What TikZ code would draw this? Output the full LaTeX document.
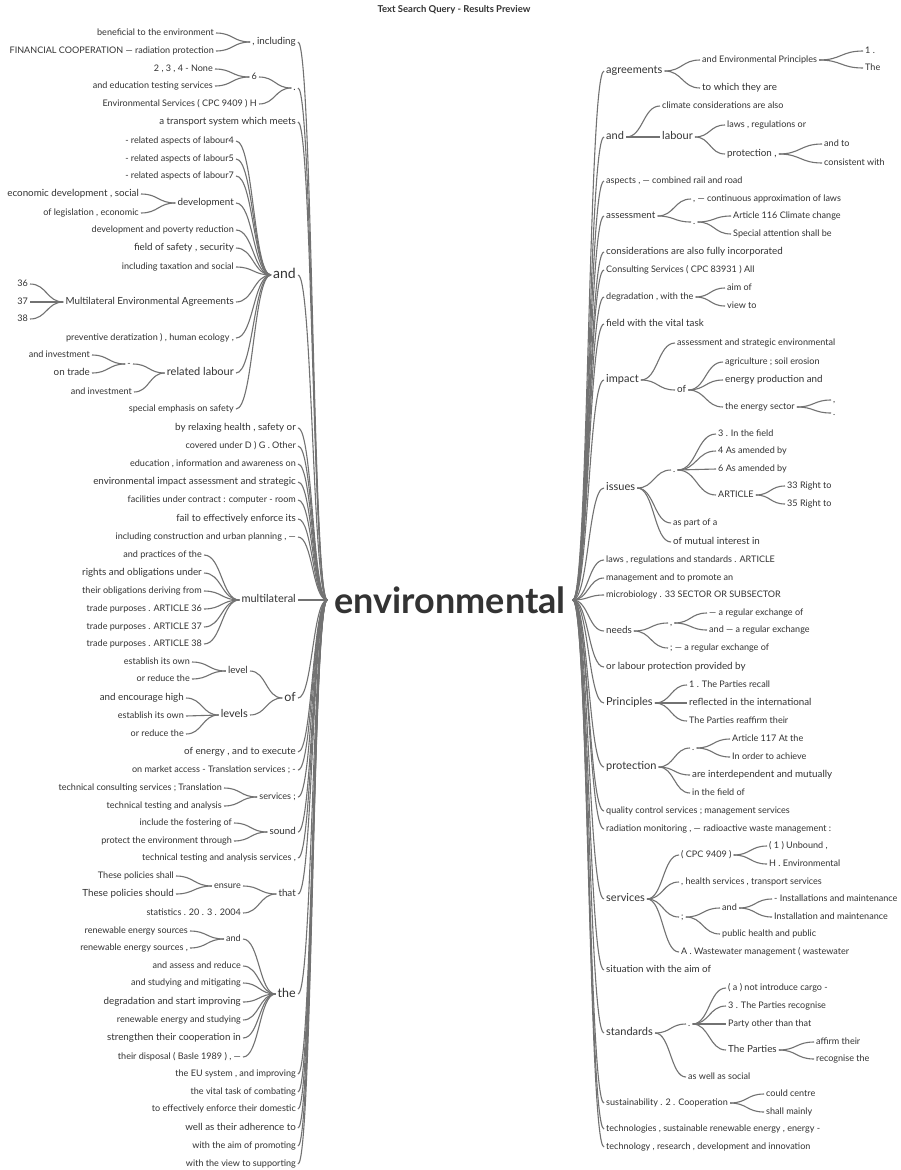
\documentclass[tikz,border=0pt]{standalone}
\usepackage{fontspec}
\setmainfont{Lato}
\usepackage{tikz}
\usetikzlibrary{calc}
\definecolor{wordgray}{HTML}{333333}
\definecolor{linkgray}{HTML}{727272}

% curved branch from the east side of one word to the west side of the next
\newcommand{\branch}[2]{\draw[link] let \p1=(#1.east), \p2=(#2.west) in (\p1) .. controls ({0.5*\x1+0.5*\x2},\y1) and ({0.5*\x1+0.5*\x2},\y2) .. (\p2);}

\tikzset{
  word/.style={text=wordgray, inner xsep=2pt, inner ysep=0pt},
  lword/.style={word, anchor=east},
  rword/.style={word, anchor=west},
  fs/.style={font=\fontsize{9.05}{11}\selectfont, text height=6pt, text depth=2pt},
  fm/.style={font=\fontsize{9.8}{12}\selectfont, text height=7pt, text depth=2pt},
  fl/.style={font=\fontsize{11}{13}\selectfont, text height=8pt, text depth=2.5pt},
  fxl/.style={font=\fontsize{12.5}{15}\selectfont, text height=9pt, text depth=3pt},
  link/.style={draw=linkgray, line width=1.1pt}
}

\begin{document}
\begin{tikzpicture}[x=1pt, y=-1pt]
\path[fill=white, use as bounding box] (0,0) rectangle (900,1170);

\node[text=wordgray, font=\fontsize{9.5}{11}\selectfont\bfseries] (title) at (454,10) {Text Search Query - Results Preview};

% Root
\node[text=wordgray, font=\fontsize{36}{42}\selectfont\bfseries, inner xsep=7pt] (env) at (450,600) {environmental};

% Left side
\node[lword,fm] (incl) at (298,42) {, including};
\node[lword,fs] (incl1) at (216,33) {beneficial to the environment};
\node[lword,fs] (incl2) at (216,51) {FINANCIAL COOPERATION — radiation protection};
\branch{incl1}{incl} \branch{incl2}{incl}

\node[lword,fm] (dotA) at (298,88) {.};
\node[lword,fs] (six) at (259,77) {6};
\node[lword,fs] (six1) at (215,69) {2 , 3 , 4 - None};
\node[lword,fs] (six2) at (215,86) {and education testing services};
\node[lword,fs] (envserv) at (259,104) {Environmental Services ( CPC 9409 ) H};
\branch{six1}{six} \branch{six2}{six}
\branch{six}{dotA} \branch{envserv}{dotA}

\node[lword,fm] (transport) at (298,122) {a transport system which meets};

\node[lword,fxl,font=\fontsize{14}{16}\selectfont] (andL) at (298,275) {and};
\node[lword,fs] (lab4) at (236,141) {- related aspects of labour4};
\node[lword,fs] (lab5) at (236,159) {- related aspects of labour5};
\node[lword,fs] (lab7) at (236,176) {- related aspects of labour7};
\node[lword,fm] (devel) at (236,203) {development};
\node[lword,fm] (devel1) at (141,194) {economic development , social};
\node[lword,fs] (devel2) at (141,213) {of legislation , economic};
\node[lword,fs] (poverty) at (236,230) {development and poverty reduction};
\node[lword,fm] (safety) at (236,248) {field of safety , security};
\node[lword,fs] (taxation) at (236,267) {including taxation and social};
\node[lword,fm] (mea) at (236,302) {Multilateral Environmental Agreements};
\node[lword,fs] (mea1) at (30,284) {36};
\node[lword,fs] (mea2) at (30,302) {37};
\node[lword,fs] (mea3) at (30,319) {38};
\node[lword,fs] (derat) at (236,338) {preventive deratization ) , human ecology ,};
\node[lword,fl] (rellab) at (236,373) {related labour};
\node[lword,fs] (dash) at (133,364) {-};
\node[lword,fs] (dash1) at (92,355) {and investment};
\node[lword,fm] (dash2) at (92,373) {on trade};
\node[lword,fs] (rellab2) at (134,392) {and investment};
\node[lword,fs] (emph) at (236,409) {special emphasis on safety};
\branch{devel1}{devel} \branch{devel2}{devel}
\branch{mea1}{mea} \branch{mea2}{mea} \branch{mea3}{mea}
\branch{dash1}{dash} \branch{dash2}{dash}
\branch{dash}{rellab} \branch{rellab2}{rellab}
\foreach \nm in {lab4,lab5,lab7,devel,poverty,safety,taxation,mea,derat,rellab,emph}
  {\branch{\nm}{andL}}

\node[lword,fm] (relaxing) at (298,428) {by relaxing health , safety or};
\node[lword,fs] (covered) at (298,446) {covered under D ) G . Other};
\node[lword,fs] (educ) at (298,464) {education , information and awareness on};
\node[lword,fm] (eia) at (298,482) {environmental impact assessment and strategic};
\node[lword,fs] (facil) at (298,500) {facilities under contract : computer - room};
\node[lword,fm] (fail) at (298,519) {fail to effectively enforce its};
\node[lword,fs] (constr) at (298,537) {including construction and urban planning , —};

\node[lword,fl] (multi) at (298,600) {multilateral};
\node[lword,fs] (multi1) at (204,555) {and practices of the};
\node[lword,fm] (multi2) at (204,573) {rights and obligations under};
\node[lword,fs] (multi3) at (204,591) {their obligations deriving from};
\node[lword,fs] (multi4) at (204,609) {trade purposes . ARTICLE 36};
\node[lword,fs] (multi5) at (204,627) {trade purposes . ARTICLE 37};
\node[lword,fs] (multi6) at (204,644) {trade purposes . ARTICLE 38};
\foreach \nm in {multi1,multi2,multi3,multi4,multi5,multi6}
  {\branch{\nm}{multi}}

\node[lword,fxl] (ofL) at (298,698) {of};
\node[lword,fm] (level) at (250,671) {level};
\node[lword,fs] (level1) at (192,662) {establish its own};
\node[lword,fs] (level2) at (192,679) {or reduce the};
\node[lword,fl] (levels) at (250,715) {levels};
\node[lword,fm] (levels1) at (186,698) {and encourage high};
\node[lword,fs] (levels2) at (186,716) {establish its own};
\node[lword,fs] (levels3) at (186,734) {or reduce the};
\branch{level1}{level} \branch{level2}{level}
\branch{levels1}{levels} \branch{levels2}{levels} \branch{levels3}{levels}
\branch{level}{ofL} \branch{levels}{ofL}

\node[lword,fm] (energy) at (298,752) {of energy , and to execute};
\node[lword,fs] (market) at (298,770) {on market access - Translation services ; -};
\node[lword,fs] (servL) at (298,797) {services ;};
\node[lword,fs] (servL1) at (224,788) {technical consulting services ; Translation};
\node[lword,fs] (servL2) at (224,806) {technical testing and analysis};
\branch{servL1}{servL} \branch{servL2}{servL}

\node[lword,fm] (sound) at (298,832) {sound};
\node[lword,fs] (sound1) at (234,823) {include the fostering of};
\node[lword,fs] (sound2) at (234,841) {protect the environment through};
\branch{sound1}{sound} \branch{sound2}{sound}

\node[lword,fs] (techtest) at (298,858) {technical testing and analysis services ,};

\node[lword,fm] (that) at (298,894) {that};
\node[lword,fs] (ensure) at (243,886) {ensure};
\node[lword,fs] (ensure1) at (176,876) {These policies shall};
\node[lword,fm] (ensure2) at (176,894) {These policies should};
\node[lword,fs] (stats) at (243,913) {statistics . 20 . 3 . 2004};
\branch{ensure1}{ensure} \branch{ensure2}{ensure}
\branch{ensure}{that} \branch{stats}{that}

\node[lword,fxl] (theL) at (298,994) {the};
\node[lword,fs] (theand) at (243,939) {and};
\node[lword,fs] (theand1) at (190,931) {renewable energy sources};
\node[lword,fs] (theand2) at (190,948) {renewable energy sources ,};
\node[lword,fs] (the1) at (243,966) {and assess and reduce};
\node[lword,fs] (the2) at (243,983) {and studying and mitigating};
\node[lword,fm] (the3) at (243,1002) {degradation and start improving};
\node[lword,fs] (the4) at (243,1020) {renewable energy and studying};
\node[lword,fm] (the5) at (243,1038) {strengthen their cooperation in};
\node[lword,fs] (the6) at (243,1057) {their disposal ( Basle 1989 ) , —};
\branch{theand1}{theand} \branch{theand2}{theand}
\foreach \nm in {theand,the1,the2,the3,the4,the5,the6}
  {\branch{\nm}{theL}}

\node[lword,fs] (eu) at (298,1074) {the EU system , and improving};
\node[lword,fs] (vital) at (298,1092) {the vital task of combating};
\node[lword,fs] (enforce) at (298,1109) {to effectively enforce their domestic};
\node[lword,fm] (adher) at (298,1128) {well as their adherence to};
\node[lword,fs] (promot) at (298,1146) {with the aim of promoting};
\node[lword,fs] (support) at (298,1164) {with the view to supporting};

\foreach \nm in {incl,dotA,transport,andL,relaxing,covered,educ,eia,facil,fail,constr,multi,ofL,energy,market,servL,sound,techtest,that,theL,eu,vital,enforce,adher,promot,support}
  {\branch{\nm}{env}}

% Right side
\node[rword,fl] (agree) at (604,71) {agreements};
\node[rword,fs] (agree1) at (700,60) {and Environmental Principles};
\node[rword,fs] (agree11) at (863,51) {1 .};
\node[rword,fs] (agree12) at (863,68) {The};
\node[rword,fm] (agree2) at (700,88) {to which they are};
\branch{agree}{agree1} \branch{agree}{agree2}
\branch{agree1}{agree11} \branch{agree1}{agree12}

\node[rword,fl] (andR) at (604,137) {and};
\node[rword,fs] (andR1) at (660,106) {climate considerations are also};
\node[rword,fl] (labour) at (660,137) {labour};
\node[rword,fs] (labour1) at (725,125) {laws , regulations or};
\node[rword,fm] (labour2) at (725,154) {protection ,};
\node[rword,fs] (prot1) at (822,144) {and to};
\node[rword,fs] (prot2) at (822,163) {consistent with};
\branch{andR}{andR1} \branch{andR}{labour}
\branch{labour}{labour1} \branch{labour}{labour2}
\branch{labour2}{prot1} \branch{labour2}{prot2}

\node[rword,fs] (aspects) at (604,181) {aspects , — combined rail and road};
\node[rword,fm] (assess) at (604,216) {assessment};
\node[rword,fs] (assess1) at (691,199) {, — continuous approximation of laws};
\node[rword,fs] (assess2) at (691,222) {.};
\node[rword,fs] (art116) at (731,216) {Article 116 Climate change};
\node[rword,fs] (special) at (731,234) {Special attention shall be};
\branch{assess}{assess1} \branch{assess}{assess2}
\branch{assess2}{art116} \branch{assess2}{special}

\node[rword,fm] (consid) at (604,252) {considerations are also fully incorporated};
\node[rword,fs] (consult) at (604,270) {Consulting Services ( CPC 83931 ) All};
\node[rword,fs] (degr) at (604,297) {degradation , with the};
\node[rword,fs] (degr1) at (725,288) {aim of};
\node[rword,fs] (degr2) at (725,306) {view to};
\branch{degr}{degr1} \branch{degr}{degr2}
\node[rword,fm] (fieldtask) at (604,324) {field with the vital task};

\node[rword,fl] (impact) at (604,380) {impact};
\node[rword,fs] (impact1) at (675,343) {assessment and strategic environmental};
\node[rword,fm] (impof) at (675,390) {of};
\node[rword,fs] (impof1) at (723,362) {agriculture ; soil erosion};
\node[rword,fm] (impof2) at (723,380) {energy production and};
\node[rword,fs] (sector) at (723,407) {the energy sector};
\node[rword,fs] (sector1) at (831,400) {,};
\node[rword,fs] (sector2) at (831,413) {.};
\branch{impact}{impact1} \branch{impact}{impof}
\branch{impof}{impof1} \branch{impof}{impof2} \branch{impof}{sector}
\branch{sector}{sector1} \branch{sector}{sector2}

\node[rword,fl] (issues) at (604,488) {issues};
\node[rword,fs] (issdot) at (671,470) {.};
\node[rword,fs] (iss1) at (716,434) {3 . In the field};
\node[rword,fs] (iss2) at (716,451) {4 As amended by};
\node[rword,fs] (iss3) at (716,469) {6 As amended by};
\node[rword,fs] (issart) at (716,495) {ARTICLE};
\node[rword,fs] (issart1) at (785,486) {33 Right to};
\node[rword,fs] (issart2) at (785,504) {35 Right to};
\node[rword,fs] (iss4) at (671,523) {as part of a};
\node[rword,fm] (iss5) at (671,542) {of mutual interest in};
\branch{issues}{issdot} \branch{issues}{iss4} \branch{issues}{iss5}
\foreach \nm in {iss1,iss2,iss3,issart}
  {\branch{issdot}{\nm}}
\branch{issart}{issart1} \branch{issart}{issart2}

\node[rword,fs] (lawsR) at (604,560) {laws , regulations and standards . ARTICLE};
\node[rword,fs] (mgmt) at (604,578) {management and to promote an};
\node[rword,fs] (micro) at (604,595) {microbiology . 33 SECTOR OR SUBSECTOR};

\node[rword,fm] (needs) at (604,631) {needs};
\node[rword,fs] (needcomma) at (668,623) {,};
\node[rword,fs] (need11) at (707,613) {— a regular exchange of};
\node[rword,fs] (need12) at (707,630) {and — a regular exchange};
\node[rword,fs] (need2) at (668,648) {; — a regular exchange of};
\branch{needs}{needcomma} \branch{needs}{need2}
\branch{needcomma}{need11} \branch{needcomma}{need12}

\node[rword,fm] (orlabour) at (604,667) {or labour protection provided by};

\node[rword,fl] (princ) at (604,703) {Principles};
\node[rword,fs] (princ1) at (687,685) {1 . The Parties recall};
\node[rword,fm] (princ2) at (687,703) {reflected in the international};
\node[rword,fs] (princ3) at (687,721) {The Parties reaffirm their};
\branch{princ}{princ1} \branch{princ}{princ2} \branch{princ}{princ3}

\node[rword,fl] (protR) at (604,767) {protection};
\node[rword,fs] (protdot) at (690,748) {.};
\node[rword,fs] (prot117) at (730,739) {Article 117 At the};
\node[rword,fs] (protorder) at (730,757) {In order to achieve};
\node[rword,fm] (protinter) at (690,775) {are interdependent and mutually};
\node[rword,fs] (protfield) at (690,793) {in the field of};
\branch{protR}{protdot} \branch{protR}{protinter} \branch{protR}{protfield}
\branch{protdot}{prot117} \branch{protdot}{protorder}

\node[rword,fs] (quality) at (604,811) {quality control services ; management services};
\node[rword,fs] (radiation) at (604,829) {radiation monitoring , — radioactive waste management :};

\node[rword,fl] (servR) at (604,899) {services};
\node[rword,fs] (cpc) at (679,855) {( CPC 9409 )};
\node[rword,fs] (cpc1) at (767,846) {( 1 ) Unbound ,};
\node[rword,fs] (cpc2) at (767,864) {H . Environmental};
\node[rword,fs] (health) at (679,882) {, health services , transport services};
\node[rword,fs] (semi) at (679,917) {;};
\node[rword,fs] (semiand) at (720,908) {and};
\node[rword,fs] (inst1) at (772,899) {- Installations and maintenance};
\node[rword,fs] (inst2) at (772,917) {Installation and maintenance};
\node[rword,fs] (pubhealth) at (720,934) {public health and public};
\node[rword,fs] (waste) at (679,952) {A . Wastewater management ( wastewater};
\foreach \nm in {cpc,health,semi,waste}
  {\branch{servR}{\nm}}
\branch{cpc}{cpc1} \branch{cpc}{cpc2}
\branch{semi}{semiand} \branch{semi}{pubhealth}
\branch{semiand}{inst1} \branch{semiand}{inst2}

\node[rword,fm] (situation) at (604,970) {situation with the aim of};

\node[rword,fl] (standards) at (604,1033) {standards};
\node[rword,fs] (stddot) at (686,1024) {.};
\node[rword,fs] (std1) at (726,988) {( a ) not introduce cargo -};
\node[rword,fs] (std2) at (726,1006) {3 . The Parties recognise};
\node[rword,fs] (std3) at (726,1024) {Party other than that};
\node[rword,fm] (parties) at (726,1050) {The Parties};
\node[rword,fs] (parties1) at (814,1042) {affirm their};
\node[rword,fs] (parties2) at (814,1059) {recognise the};
\node[rword,fs] (stdsocial) at (686,1077) {as well as social};
\branch{standards}{stddot} \branch{standards}{stdsocial}
\foreach \nm in {std1,std2,std3,parties}
  {\branch{stddot}{\nm}}
\branch{parties}{parties1} \branch{parties}{parties2}

\node[rword,fs] (sustain) at (604,1103) {sustainability . 2 . Cooperation};
\node[rword,fs] (sustain1) at (764,1094) {could centre};
\node[rword,fs] (sustain2) at (764,1112) {shall mainly};
\branch{sustain}{sustain1} \branch{sustain}{sustain2}

\node[rword,fs] (technologies) at (604,1129) {technologies , sustainable renewable energy , energy -};
\node[rword,fs] (technology) at (604,1147) {technology , research , development and innovation};

\foreach \nm in {agree,andR,aspects,assess,consid,consult,degr,fieldtask,impact,issues,lawsR,mgmt,micro,needs,orlabour,princ,protR,quality,radiation,servR,situation,standards,sustain,technologies,technology}
  {\branch{env}{\nm}}

\end{tikzpicture}
\end{document}
